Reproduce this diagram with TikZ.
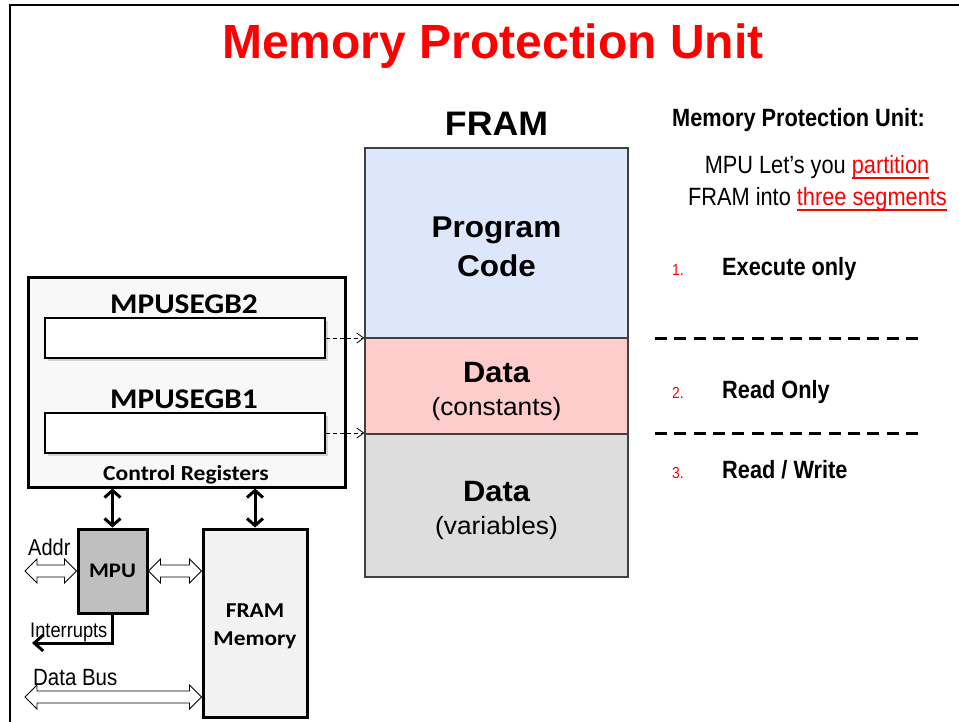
\documentclass[tikz,border=0pt]{standalone}
\usepackage{fontspec}
\setmainfont{Liberation Sans}
\newfontfamily\framfont[FakeStretch=1.05]{Liberation Sans}
\newfontfamily\calfont[FakeStretch=1.1]{Carlito}
\newfontfamily\narrowfont[FakeStretch=0.87]{Liberation Sans}
\usetikzlibrary{arrows.meta, positioning, calc, shadows}

\definecolor{titlered}{RGB}{255,0,0}
\definecolor{progblue}{RGB}{220,231,251}
\definecolor{constpink}{RGB}{255,204,204}
\definecolor{vargray}{RGB}{221,221,221}
\definecolor{mpugray}{RGB}{191,191,191}
\definecolor{memgray}{RGB}{242,242,242}
\definecolor{ctrlgray}{RGB}{248,248,248}

\newcommand{\pxsize}[1]{\fontsize{#1}{#1}\selectfont}
\newcommand{\redul}[1]{{\color{titlered}\setbox0=\hbox{#1}\rlap{\vrule height -4pt depth 6pt width \wd0}\box0}}
% hollow double-headed bus arrow between two points on one level
\newcommand{\busarrow}[2]{%
  \draw[busshape] let \p1=(#1), \p2=(#2) in
    (\x1,\y1) -- (\x1+12pt,\y1+12pt) -- (\x1+12pt,\y1+6pt) -- (\x2-12pt,\y1+6pt)
    -- (\x2-12pt,\y1+12pt) -- (\x2,\y1) -- (\x2-12pt,\y1-12pt) -- (\x2-12pt,\y1-6pt)
    -- (\x1+12pt,\y1-6pt) -- (\x1+12pt,\y1-12pt) -- cycle;}

\tikzset{
  segbox/.style={draw=black!75, line width=1.2pt, minimum width=263, inner sep=0},
  framlbl/.style={anchor=base, inner sep=0},
  callbl/.style={anchor=base, inner sep=0},
  ctrlbox/.style={draw, line width=3pt, fill=ctrlgray, inner sep=0},
  regbox/.style={draw, line width=1.2pt, fill=white, minimum width=280, minimum height=40,
    inner sep=0, drop shadow={shadow xshift=3pt, shadow yshift=-3pt, opacity=0.3}},
  blockbox/.style={draw, line width=3pt, inner sep=0},
  segptr/.style={line width=0.8pt, dash pattern=on 4pt off 3pt, -{Straight Barb[length=7pt,width=10pt]}},
  regbus/.style={line width=3pt, {Straight Barb[length=7pt,width=16pt]}-{Straight Barb[length=7pt,width=16pt]}},
  busshape/.style={draw, line width=0.8pt, fill=white, line join=miter},
  sepline/.style={line width=3pt, dash pattern=on 12pt off 7.3pt},
  buslbl/.style={anchor=base west, inner sep=0},
}

\begin{document}
\begin{tikzpicture}[x=1pt, y=-1pt]
\useasboundingbox (0,0) rectangle (959,721);
\clip (0,0) rectangle (959,721);
\draw[line width=2.5pt] (975,5) -| (10,740);

\node[anchor=base, inner sep=0, text=titlered, font=\bfseries\pxsize{48}] (title) at (493,58) {Memory Protection Unit};

% FRAM map
\node[segbox, fill=progblue, minimum height=190] (progseg) at (496.5,243) {};
\node[segbox, fill=constpink, minimum height=96] (constseg) at (496.5,386) {};
\node[segbox, fill=vargray, minimum height=143] (varseg) at (496.5,505.5) {};
\node[framlbl, font=\framfont\bfseries\pxsize{34}] (framtitle) at (496.5,135) {FRAM};
\node[framlbl, font=\framfont\bfseries\pxsize{30}] (progtxt) at (496.5,237) {Program};
\node[framlbl, font=\framfont\bfseries\pxsize{30}] (codetxt) at (496.5,276) {Code};
\node[framlbl, font=\framfont\bfseries\pxsize{29.4}] (constdata) at (496.5,382) {Data};
\node[framlbl, font=\framfont\pxsize{25}] (consttxt) at (496.5,415) {(constants)};
\node[framlbl, font=\framfont\bfseries\pxsize{29.4}] (vardata) at (496.5,501) {Data};
\node[framlbl, font=\framfont\pxsize{25}] (vartxt) at (496.5,534) {(variables)};

% control registers
\node[ctrlbox, minimum width=317, minimum height=210] (ctrl) at (186.5,382) {};
\node[callbl, font=\calfont\bfseries\pxsize{28.5}] (seg2lbl) at (184,313) {MPUSEGB2};
\node[regbox] (reg2) at (185,338) {};
\node[callbl, font=\calfont\bfseries\pxsize{28.5}] (seg1lbl) at (184,408) {MPUSEGB1};
\node[regbox] (reg1) at (185,433) {};
\node[callbl, font=\calfont\bfseries\pxsize{21.4}] (ctrllbl) at (186,480) {Control Registers};
\draw[segptr] (reg2.east) -- (reg2.east -| progseg.west);
\draw[segptr] (reg1.east) -- (reg1.east -| constseg.west);

% MPU and FRAM memory
\node[blockbox, fill=mpugray, minimum width=69, minimum height=84] (mpu) at (112.5,571) {};
\node[callbl, font=\calfont\bfseries\pxsize{20.7}] (mpulbl) at (112.5,577) {MPU};
\node[blockbox, fill=memgray, minimum width=104, minimum height=188] (fmem) at (255,623) {};
\node[callbl, font=\calfont\bfseries\pxsize{21.2}] (fmemlbl) at (255,617) {FRAM};
\node[callbl, font=\calfont\bfseries\pxsize{21.2}] (fmemlbl2) at (255,645) {Memory};
\draw[regbus] (ctrl.south -| mpu.north) -- (mpu.north);
\draw[regbus] (ctrl.south -| fmem.north) -- (fmem.north);

\coordinate (addrend) at (25,571);
\coordinate (intend) at (32,643);
\coordinate (busend) at (25,697);
\busarrow{addrend}{mpu.west}
\busarrow{mpu.east}{mpu.east -| fmem.west}
\busarrow{busend}{busend -| fmem.west}
\draw[line width=3pt, -{Straight Barb[length=9pt,width=16pt]}] (mpu.south) |- (intend);
\node[buslbl, font=\narrowfont\pxsize{23}] (addrlbl) at (28,555) {Addr};
\node[buslbl, font=\narrowfont\pxsize{21}] (intlbl) at (30,637) {Interrupts};
\node[buslbl, font=\narrowfont\pxsize{23.5}] (datalbl) at (33,685) {Data Bus};

% notes on the right
\node[anchor=base west, inner sep=0, font=\narrowfont\bfseries\pxsize{25}] (mputitle) at (672,126) {Memory Protection Unit:};
\node[anchor=base, inner sep=0, font=\narrowfont\pxsize{25}] (intro1) at (817,173) {MPU Let’s you \redul{partition}};
\node[anchor=base, inner sep=0, font=\narrowfont\pxsize{25}] (intro2) at (817.5,205) {FRAM into \redul{three segments}};
\foreach \num/\yy in {1/275, 2/398, 3/478}
  \node[anchor=base west, inner sep=0, text=titlered, font=\narrowfont\pxsize{16}] (num\num) at (672,\yy) {\num.};
\node[anchor=base west, inner sep=0, font=\narrowfont\bfseries\pxsize{25}] (item1) at (722,275) {Execute only};
\node[anchor=base west, inner sep=0, font=\narrowfont\bfseries\pxsize{25}] (item2) at (722,398) {Read Only};
\node[anchor=base west, inner sep=0, font=\narrowfont\bfseries\pxsize{25}] (item3) at (722,478) {Read / Write};
\draw[sepline] (655,338) -- (918,338);
\draw[sepline] (655,433) -- (918,433);
\end{tikzpicture}
\end{document}
